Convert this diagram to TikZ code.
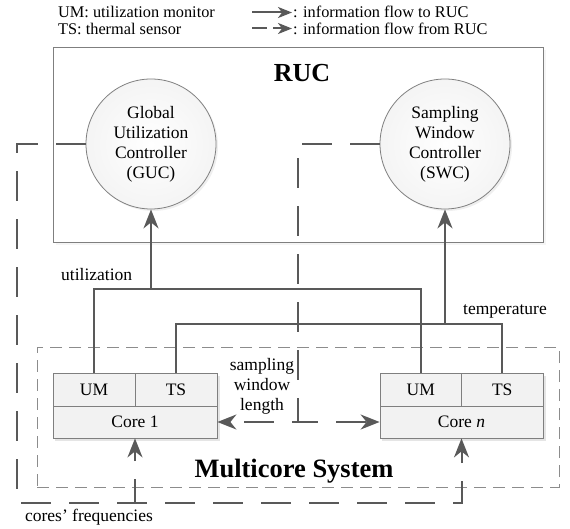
\documentclass[tikz,border=0pt]{standalone}
\usepackage{fontspec}
\setmainfont{Liberation Serif}
\usetikzlibrary{arrows.meta,shadows}
\definecolor{conn}{HTML}{595959}
\definecolor{boxline}{HTML}{7F7F7F}
\definecolor{dashline}{HTML}{8C8C8C}
\definecolor{corefill}{HTML}{F2F2F2}
\begin{document}
\begin{tikzpicture}[x=1pt,y=-1pt,
  txt/.style={font=\fontsize{17.5}{21}\selectfont},
  legtxt/.style={font=\fontsize{16.3}{17}\selectfont, inner sep=0pt, anchor=west},
  conline/.style={draw=conn, line width=2pt},
  arr/.style={-{Stealth[length=19pt,width=15pt,inset=6pt]}},
  legarr/.style={-{Stealth[length=14pt,width=11pt,inset=4pt]}},
  bigdash/.style={draw=conn, line width=2pt, dash pattern=on 30pt off 18pt},
  ctrl/.style={circle, draw=boxline, line width=0.8pt, minimum size=130pt, inner sep=0pt,
     inner color=white, outer color=corefill!80!gray!30, align=center, txt,
     drop shadow={opacity=0.12, shadow xshift=2pt, shadow yshift=-2pt}},
  cell/.style={draw=boxline, line width=0.8pt, fill=corefill, inner sep=0pt, txt}
]
\useasboundingbox (0,0) rectangle (570,529);

% legend
\node[legtxt] (leg1) at (58,12) {UM: utilization monitor};
\node[legtxt] (leg2) at (58,29) {TS: thermal sensor};
\coordinate (la1) at (252,12.5);
\coordinate (lb1) at (292,12.5);
\coordinate (la2) at (252,28.5);
\coordinate (lb2) at (292,28.5);
\draw[conline, legarr] (la1) -- (lb1);
\draw[conline, legarr, dash pattern=on 15pt off 6pt] (la2) -- (lb2);
\node[legtxt] (leg3) at (293,12) {: information flow to RUC};
\node[legtxt] (leg4) at (293,29) {: information flow from RUC};

% RUC box
\node[draw=boxline, line width=0.8pt, fill=white, minimum width=490pt, minimum height=195pt, inner sep=0pt,
  drop shadow={opacity=0.08, shadow xshift=3pt, shadow yshift=-3pt}] (ruc) at (298,144.5) {};
\node[font=\fontsize{26}{30}\selectfont\bfseries] (ructitle) at (302,73) {RUC};

% Multicore box
\node[draw=dashline, line width=0.8pt, dash pattern=on 12pt off 7pt, minimum width=522pt, minimum height=140pt, inner sep=0pt] (mc) at (298,417) {};
\node[font=\fontsize{26.5}{30}\selectfont\bfseries] (mctitle) at (294,471) {Multicore System};

% controllers
\node[ctrl] (guc) at (151,144) {Global\\[-1pt]Utilization\\[-1pt]Controller\\[-1pt](GUC)};
\node[ctrl] (swc) at (445,144) {Sampling\\[-1pt]Window\\[-1pt]Controller\\[-1pt](SWC)};

% cores
\fill[black, opacity=0.1] (55,376) rectangle (220,441);
\fill[black, opacity=0.1] (382,376) rectangle (546,441);
\node[cell, minimum width=164pt, minimum height=32pt] (core1) at (135,422) {Core 1};
\node[cell, minimum width=82pt, minimum height=33pt] (um1) at (94,389.5) {UM};
\node[cell, minimum width=82pt, minimum height=33pt] (ts1) at (176,389.5) {TS};
\node[cell, minimum width=163pt, minimum height=32pt] (coren) at (461.5,422) {Core \textit{n}};
\node[cell, minimum width=81.5pt, minimum height=33pt] (umn) at (420.75,389.5) {UM};
\node[cell, minimum width=81.5pt, minimum height=33pt] (tsn) at (502.25,389.5) {TS};

% information flow to RUC
\coordinate (ubus) at (151,289);
\coordinate (tbus) at (445,324);
\draw[conline] (um1.north) |- (ubus) -| (umn.north);
\draw[conline, arr] (ubus) -- (guc.south);
\draw[conline] (ts1.north) |- (tbus) -| (tsn.north);
\draw[conline, arr] (tbus) -- (swc.south);
\node[txt, anchor=west, inner sep=0pt] (ulab) at (61,275) {utilization};
\node[txt, anchor=west, inner sep=0pt] (tlab) at (463,311) {temperature};

% information flow from RUC
\coordinate (fb) at (17,503);
\coordinate (f1) at (135,503);
\draw[bigdash, arr] (guc.west) -| (fb) -| (coren.south);
\draw[bigdash, arr, dash phase=6pt] (f1) -- (core1.south);
\node[txt, inner sep=0pt] (flab) at (89,517) {cores’ frequencies};

\coordinate (sc) at (298,422);
\draw[bigdash, arr] (swc.west) -| (sc) -- (core1.east);
\draw[bigdash, arr, dash phase=10pt] (sc) -- (coren.west);
\node[txt, align=center, inner sep=0pt] (slab) at (262,386) {sampling\\[-1pt]window\\[-1pt]length};
\end{tikzpicture}
\end{document}
